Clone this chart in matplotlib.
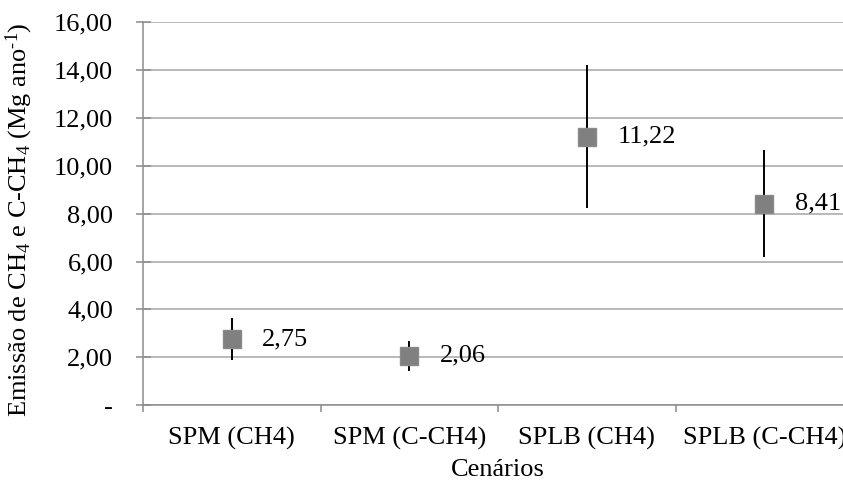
import numpy as np
import matplotlib
matplotlib.use("Agg")
import matplotlib.pyplot as plt
from matplotlib.ticker import FuncFormatter, FixedLocator

plt.rcParams['font.family'] = ['Liberation Serif', 'DejaVu Serif']
plt.rcParams['mathtext.fontset'] = 'custom'
plt.rcParams['mathtext.rm'] = 'Liberation Serif'
plt.rcParams['mathtext.it'] = 'Liberation Serif:italic'

# data
scenarios = ['SPM (CH4)', 'SPM (C-CH4)', 'SPLB (CH4)', 'SPLB (C-CH4)']
emissions = [2.75, 2.06, 11.22, 8.41]
errors = [0.87, 0.63, 3.00, 2.24]
point_labels = ['2,75', '2,06', '11,22', '8,41']

fs = 19
grid_c = '#a6a6a6'
axis_c = '#8c8c8c'

fig = plt.figure(figsize=(8.43, 4.86), dpi=100)
ax = fig.add_axes([143 / 843, 81 / 486, 710 / 843, 382.6 / 486])

x = np.arange(len(scenarios))

ax.errorbar(x, emissions, yerr=errors, fmt='none', ecolor='black',
            elinewidth=1.4, capsize=0, zorder=3)
ax.plot(x, emissions, linestyle='none', marker='s', markersize=13.5,
        color='#808080', markeredgecolor='#8a8a8a', zorder=4)

for xi, yi, lab in zip(x, emissions, point_labels):
    ax.annotate(lab, (xi, yi), xytext=(22, 0), textcoords='offset points',
                ha='left', va='center', fontsize=fs, zorder=5)

ax.set_xlim(-0.5, len(scenarios) - 0.5)
ax.set_ylim(0, 16)

# y axis
ax.yaxis.set_major_locator(FixedLocator(np.arange(0, 17, 2)))
ax.yaxis.set_major_formatter(FuncFormatter(
    lambda v, p: '-' if v == 0 else f'{v:.2f}'.replace('.', ',')))
ax.tick_params(axis='y', direction='inout', length=10.8, width=1.1,
               color=axis_c, labelsize=fs, pad=16)
ax.grid(axis='y', color=grid_c, linewidth=1.1, zorder=0)
ax.set_axisbelow(True)

# x axis: ticks at category boundaries, labels at centres
ax.xaxis.set_major_locator(FixedLocator(np.arange(-0.5, len(scenarios), 1.0)))
ax.xaxis.set_major_formatter(FuncFormatter(lambda v, p: ''))
ax.xaxis.set_minor_locator(FixedLocator(x))
ax.set_xticklabels(scenarios, minor=True)
ax.tick_params(axis='x', which='major', direction='out', length=5,
               width=1.1, color=axis_c)
ax.tick_params(axis='x', which='minor', length=0, labelsize=fs, pad=16)

for s in ['top', 'right']:
    ax.spines[s].set_visible(False)
for s in ['left', 'bottom']:
    ax.spines[s].set_color(axis_c)
    ax.spines[s].set_linewidth(1.1)

ax.set_xlabel('Cenários', fontsize=fs, labelpad=6)
ax.set_ylabel(r'Emissão de CH$_4$ e C-CH$_4$ (Mg ano$^{\text{-}1}$)', fontsize=fs)
ax.yaxis.set_label_coords(-0.152, 0.484)

fig.savefig('out.png', dpi=100)
